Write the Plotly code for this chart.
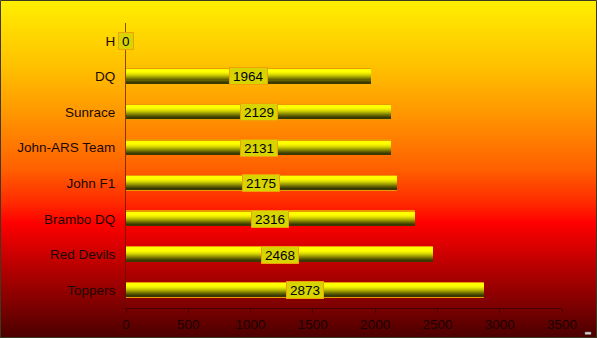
import numpy as np
import plotly.graph_objects as go

teams = ["H", "DQ", "Sunrace", "John-ARS Team", "John F1", "Brambo DQ", "Red Devils", "Toppers"]
points = [0, 1964, 2129, 2131, 2175, 2316, 2468, 2873]
x_ticks = [0, 500, 1000, 1500, 2000, 2500, 3000, 3500]

W, H = 597, 338
ML, MR, MT, MB = 126, 35, 23, 30
PW, PH = W - ML - MR, H - MT - MB


def xp(px):
    return (px - ML) / PW


def yp(py):
    return (H - MB - py) / PH


bg_stops = [(0.0, (255, 239, 0)), (0.2, (255, 192, 0)), (0.35, (255, 146, 0)),
            (0.5, (255, 96, 0)), (0.6, (255, 42, 0)), (0.66, (255, 0, 0)),
            (0.76, (200, 0, 0)), (0.88, (138, 0, 0)), (1.0, (74, 0, 0))]


def interp(stops, t):
    for (t0, c0), (t1, c1) in zip(stops[:-1], stops[1:]):
        if t <= t1:
            f = (t - t0) / (t1 - t0) if t1 > t0 else 0
            return tuple(int(round(a + (b - a) * f)) for a, b in zip(c0, c1))
    return stops[-1][1]


shapes = []
step = 2
for py in range(0, H, step):
    c = interp(bg_stops, (py + step / 2) / H)
    shapes.append(dict(type="rect", xref="paper", yref="paper", layer="below",
                       x0=xp(-1), x1=xp(W + 1), y0=yp(py + step + 1), y1=yp(py),
                       fillcolor="rgb(%d,%d,%d)" % c, line=dict(width=0)))
# outer border
shapes.append(dict(type="rect", xref="paper", yref="paper", layer="above",
                   x0=xp(0.5), x1=xp(W - 0.5), y0=yp(H - 0.5), y1=yp(0.5),
                   line=dict(color="#3c3a22", width=1)))
# small legend marker bottom right
shapes.append(dict(type="rect", xref="paper", yref="paper", layer="above",
                   x0=xp(585), x1=xp(591), y0=yp(334.5), y1=yp(332),
                   fillcolor="#d0d0d0", line=dict(color="#707070", width=0.5)))

fig = go.Figure()

BW = 0.42
fig.add_trace(go.Bar(y=teams, x=points, orientation="h", width=BW,
                     marker=dict(color="#e89a00", line=dict(color="#e89a00", width=1)),
                     hoverinfo="skip", showlegend=False))
slice_colors = ["#ffff00", "#ffff00", "#ffff00", "#f6f600", "#eaea00", "#d8d800", "#c4c400",
                "#acac00", "#949400", "#7a7a00", "#626200", "#4c4c00", "#3a3a00"]
inner = BW - 0.05
n = len(slice_colors)
sw = inner / n
for i, col in enumerate(slice_colors):
    fig.add_trace(go.Bar(y=teams, x=points, orientation="h", width=sw * 1.08,
                         offset=-inner / 2 + i * sw,
                         marker=dict(color=col, line=dict(width=0)),
                         hoverinfo="skip", showlegend=False))

annotations = []
for t, v in zip(teams, points):
    annotations.append(dict(x=v / 2, y=t, xref="x", yref="y", text=str(v), showarrow=False,
                            font=dict(family="Arial", size=13.5, color="#000000"),
                            bgcolor="#d8d400", bordercolor="#f0a000", borderwidth=1,
                            borderpad=3, height=10, xanchor="center", yanchor="middle"))

fig.update_layout(
    width=W, height=H, margin=dict(l=ML, r=MR, t=MT, b=MB, pad=0, autoexpand=False),
    paper_bgcolor="#ff9900", plot_bgcolor="rgba(0,0,0,0)",
    barmode="overlay", bargap=0, showlegend=False,
    shapes=shapes, annotations=annotations,
    font=dict(family="Arial", size=13.5, color="#1a0800"),
    xaxis=dict(range=[0, 3500], tickvals=x_ticks, showgrid=False, zeroline=False,
               automargin=False,
               showline=True, linecolor="rgba(60,0,0,0.8)", linewidth=1,
               ticks="outside", ticklen=4, tickcolor="rgba(60,0,0,0.8)",
               tickfont=dict(size=13.5, color="#1a0000")),
    yaxis=dict(autorange="reversed", showgrid=False, zeroline=False,
               automargin=False,
               showline=True, linecolor="rgba(90,20,0,0.7)", linewidth=1,
               ticks="", ticklabelstandoff=7,
               tickfont=dict(size=13.5, color="#1a0800")),
)

fig.write_html("out.html")
